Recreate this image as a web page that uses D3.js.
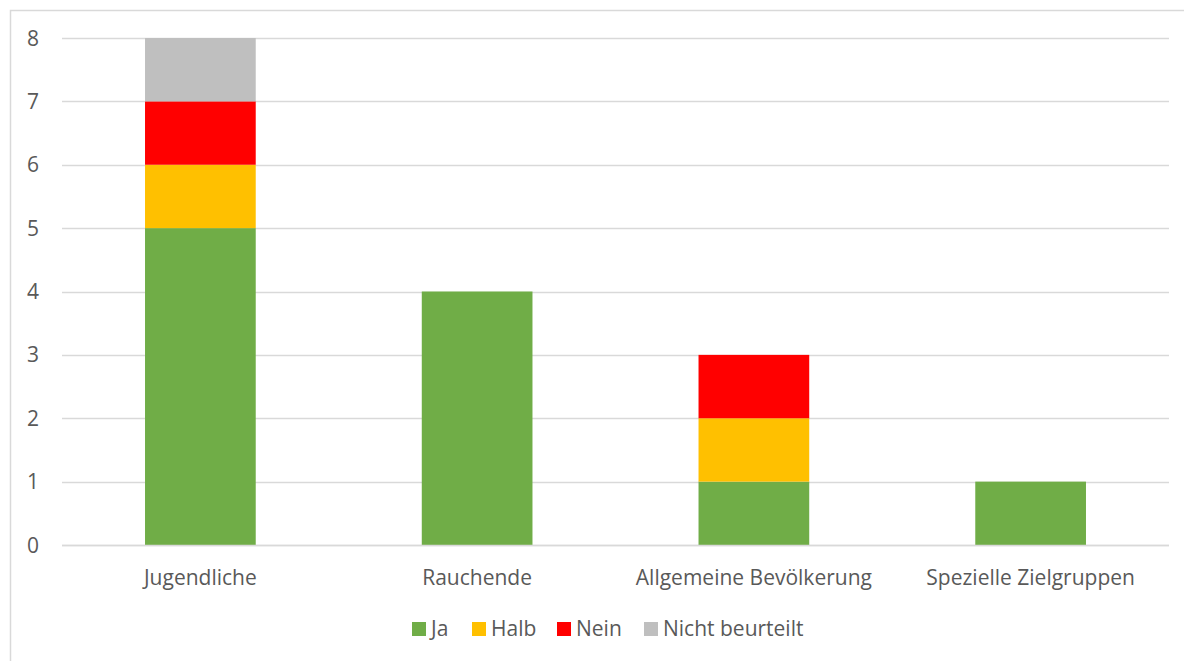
<!DOCTYPE html>
<html><head><meta charset="utf-8">
<script src="https://cdn.jsdelivr.net/npm/d3@7"></script>
<style>
html,body{margin:0;padding:0;background:#fff;}
svg{display:block;}
text{font-family:"Open Sans",Lato,sans-serif;fill:#595959;}
</style></head>
<body>
<svg id="c" width="1184" height="661"></svg>
<script>
const categories = ["Jugendliche","Rauchende","Allgemeine Bevölkerung","Spezielle Zielgruppen"];
const seriesNames = ["Ja","Halb","Nein","Nicht beurteilt"];
const ja = [5,4,1,1];
const halb = [1,0,1,0];
const nein = [1,0,1,0];
const nichtBeurteilt = [1,0,0,0];
const yTicks = [0,1,2,3,4,5,6,7,8];
const colors = ["#70AD47","#FFC000","#FF0000","#BFBFBF"];

const svg = d3.select("#c");
svg.append("rect").attr("x",10.5).attr("y",10.5).attr("width",1200).attr("height",700)
  .attr("fill","none").attr("stroke","#D9D9D9").attr("stroke-width",1.5);

const mLeft=62, mRight=1169, mTop=38, mBottom=545;
const x = d3.scaleBand().domain(categories).range([mLeft,mRight]).paddingInner(0.6).paddingOuter(0.3);
const y = d3.scaleLinear().domain([0,8]).range([mBottom,mTop]);

const rows = categories.map((c,i)=>({cat:c,"Ja":ja[i],"Halb":halb[i],"Nein":nein[i],"Nicht beurteilt":nichtBeurteilt[i]}));
const stack = d3.stack().keys(seriesNames)(rows);

svg.append("g").selectAll("line").data(yTicks).join("line")
  .attr("x1",mLeft).attr("x2",mRight).attr("y1",d=>Math.round(y(d))+0.5).attr("y2",d=>Math.round(y(d))+0.5)
  .attr("stroke","#D9D9D9").attr("stroke-width",1.5);

svg.append("g").selectAll("text").data(yTicks).join("text")
  .attr("x",39).attr("y",d=>y(d)).attr("dy","0.36em").attr("text-anchor","end")
  .attr("font-size","21px").text(d=>d);

svg.append("g").selectAll("g").data(stack).join("g")
  .attr("fill",(d,i)=>colors[i])
  .selectAll("rect").data(d=>d.filter(s=>s[1]-s[0]>0)).join("rect")
  .attr("x",d=>x(d.data.cat)).attr("width",x.bandwidth())
  .attr("y",d=>y(d[1])).attr("height",d=>y(d[0])-y(d[1]));

svg.append("line").attr("x1",mLeft).attr("x2",mRight).attr("y1",mBottom+0.5).attr("y2",mBottom+0.5)
  .attr("stroke","#D9D9D9").attr("stroke-width",1.5);

svg.append("g").selectAll("text").data(categories).join("text")
  .attr("x",d=>x(d)+x.bandwidth()/2).attr("y",585).attr("text-anchor","middle")
  .attr("font-size","21px").text(d=>d);

const legX=[412,472,557,644];
const lg = svg.append("g").selectAll("g").data(seriesNames).join("g")
  .attr("transform",(d,i)=>`translate(${legX[i]},622)`);
lg.append("rect").attr("width",14).attr("height",14).attr("fill",(d,i)=>colors[i]);
lg.append("text").attr("x",19).attr("y",14).attr("font-size","21px").text(d=>d);
</script>
</body></html>
